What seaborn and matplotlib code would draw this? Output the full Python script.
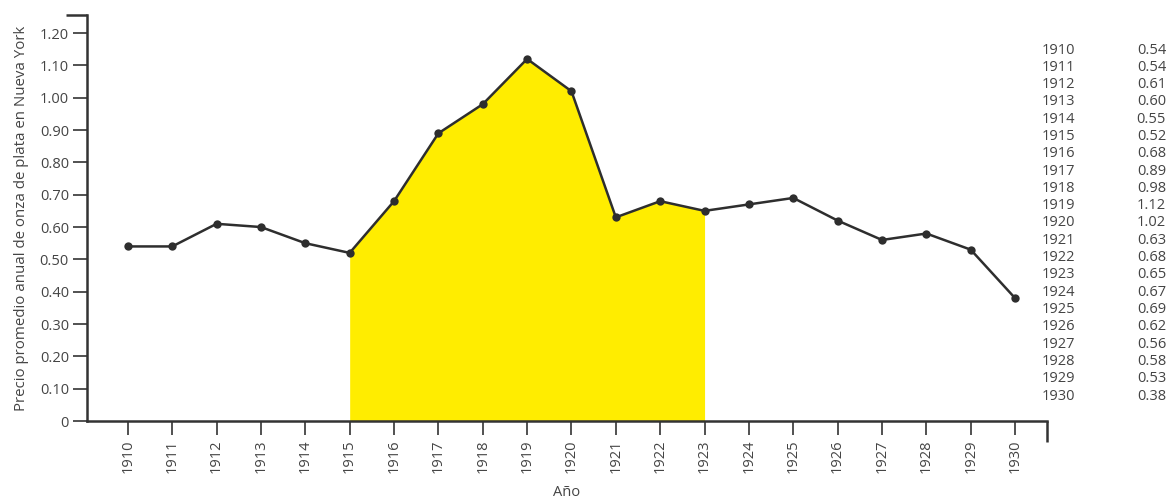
import numpy as np
import pandas as pd
import matplotlib
matplotlib.use("Agg")
import matplotlib.pyplot as plt
import seaborn as sns

# precio promedio anual, onza de plata en Nueva York
years = list(range(1910, 1931))
prices = [0.54, 0.54, 0.61, 0.60, 0.55, 0.52, 0.68, 0.89, 0.98, 1.12, 1.02,
          0.63, 0.68, 0.65, 0.67, 0.69, 0.62, 0.56, 0.58, 0.53, 0.38]
shade_start, shade_end = 1915, 1923
ytick_vals = [0, 0.10, 0.20, 0.30, 0.40, 0.50, 0.60, 0.70, 0.80, 0.90, 1.00, 1.10, 1.20]
ytick_labels = ["0"] + [f"{v:.2f}" for v in ytick_vals[1:]]

df = pd.DataFrame({"year": years, "price": prices})

sns.set_style("white")
plt.rcParams["font.family"] = ["Open Sans", "DejaVu Sans"]

fig = plt.figure(figsize=(11.7, 4.99), dpi=100)
ax = fig.add_axes([0.0744, 0.1563, 0.8205, 0.8137])

axis_col = "#333333"
text_col = "#444444"

sub = df[(df.year >= shade_start) & (df.year <= shade_end)]
ax.fill_between(sub.year, 0, sub.price, color="#FFED00", lw=0, zorder=1)
sns.lineplot(data=df, x="year", y="price", ax=ax, color="#2e2e2e", lw=1.8,
             marker="o", markersize=6, markeredgewidth=0, zorder=3)

ax.set_xlim(1909.08, 1930.72)
ax.set_ylim(0, 1.256)
ax.set_xticks(years)
ax.set_xticklabels([str(y) for y in years], rotation=90)
ax.set_yticks(ytick_vals)
ax.set_yticklabels(ytick_labels)
# little end marks on the spines
ax.set_xticks([1930.72], minor=True)
ax.set_yticks([1.256], minor=True)

for s in ["top", "right"]:
    ax.spines[s].set_visible(False)
for s in ["left", "bottom"]:
    ax.spines[s].set_color(axis_col)
    ax.spines[s].set_linewidth(1.8)

ax.tick_params(axis="both", which="both", bottom=True, left=True)
ax.tick_params(axis="both", which="major", direction="out", length=10, width=1.2,
               color=axis_col, labelcolor=text_col, labelsize=10.5, pad=3)
ax.tick_params(axis="both", which="minor", direction="out", length=15, width=1.8,
               color=axis_col)

ax.set_xlabel("Año", color=text_col, fontsize=10.5, labelpad=9)
ax.set_ylabel("Precio promedio anual de onza de plata en Nueva York",
              color=text_col, fontsize=10.8, labelpad=8)

# tabla de valores a la derecha
row_top, row_step = 1 - 50 / 499, 17.3 / 499
for i, (yr, p) in enumerate(zip(years, prices)):
    yy = row_top - i * row_step
    fig.text(1042 / 1170, yy, str(yr), ha="left", va="center",
             fontsize=10.5, color=text_col)
    fig.text(1166 / 1170, yy, f"{p:.2f}", ha="right", va="center",
             fontsize=10.5, color=text_col)

fig.savefig("out.png", dpi=100, facecolor="white")
